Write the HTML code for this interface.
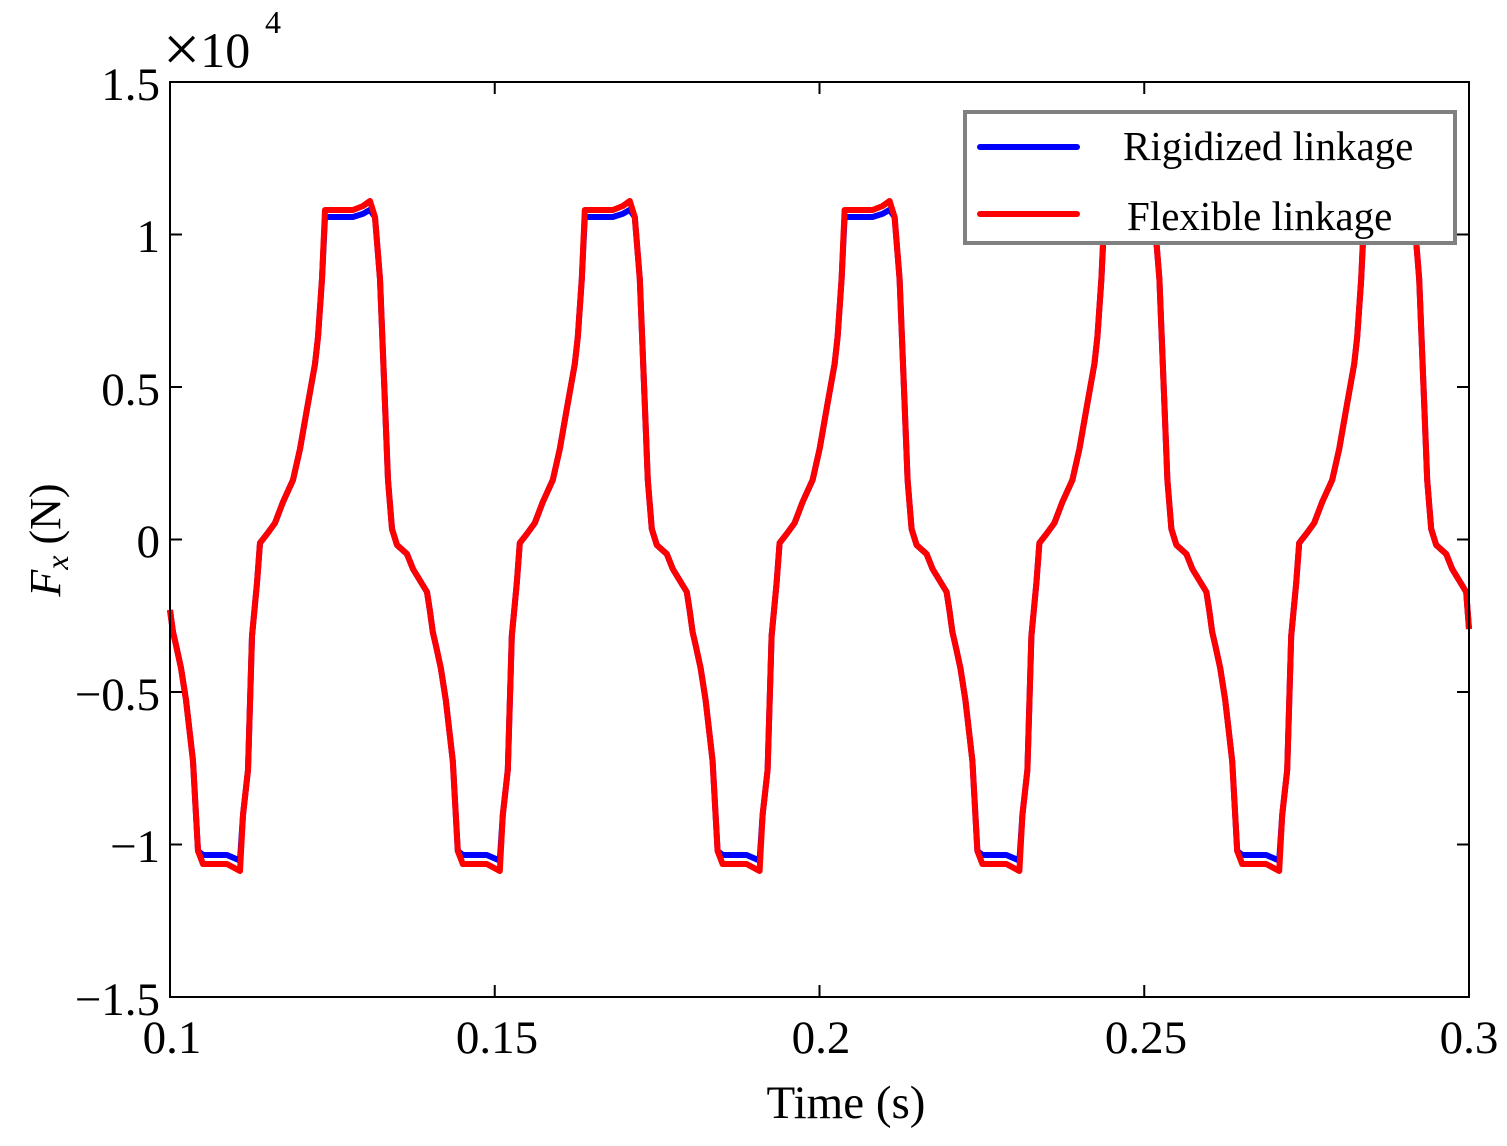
<!DOCTYPE html>
<html><head><meta charset="utf-8"><style>
html,body{margin:0;padding:0;background:#fff;}
svg{display:block;font-family:"Liberation Serif",serif;}
</style></head><body>
<svg id="s" width="1507" height="1146" viewBox="0 0 1507 1146" xmlns="http://www.w3.org/2000/svg">
<rect width="1507" height="1146" fill="#fff"/>
<g id="plot"></g>
<rect x="170" y="82" width="1299" height="915" fill="none" stroke="#000" stroke-width="2"/>
<g stroke="#000" stroke-width="2" id="ticks"></g>
<g font-size="47" fill="#000" text-anchor="end">
<text x="160" y="100">1.5</text>
<text x="160" y="252">1</text>
<text x="160" y="405">0.5</text>
<text x="160" y="557">0</text>
<text x="160" y="710">−0.5</text>
<text x="160" y="862">−1</text>
<text x="160" y="1015">−1.5</text>
</g>
<g font-size="47" fill="#000" text-anchor="middle">
<text x="172" y="1053">0.1</text>
<text x="497" y="1053">0.15</text>
<text x="821" y="1053">0.2</text>
<text x="1146" y="1053">0.25</text>
<text x="1469" y="1053">0.3</text>
<text x="846" y="1118">Time (s)</text>
</g>
<text x="163" y="67" font-size="50"><tspan font-size="66" dy="4">×</tspan><tspan dy="-4">10</tspan></text>
<text x="265" y="33" font-size="32">4</text>
<text transform="translate(60,540) rotate(-90)" font-size="44" text-anchor="middle"><tspan font-style="italic">F</tspan><tspan font-style="italic" font-size="32" dy="8">x</tspan><tspan dy="-8"> (N)</tspan></text>
<rect x="965" y="112" width="490" height="131" fill="#fff" stroke="#808080" stroke-width="4"/>
<line x1="980" y1="147" x2="1077" y2="147" stroke="#0000ff" stroke-width="6" stroke-linecap="round"/>
<line x1="980" y1="214" x2="1077" y2="214" stroke="#ff0000" stroke-width="6" stroke-linecap="round"/>
<text x="1123" y="160" font-size="41">Rigidized linkage</text>
<text x="1127" y="230" font-size="41">Flexible linkage</text>
</svg>
<script>
var pts=[[170,610],[173,632],[176,645],[181,668],[186,700],[193,761],[198,851],[203,864],[227,864],[240,871],[243,815],[248,770],[252,636],[257,583],[260,543],[267,534],[275,523],[283,502],[293,480],[300,449],[307,409],[315,364],[318,337],[322,279],[325,210],[353,210],[363,206],[370,201],[375,217],[380,279],[385,404],[388,480],[392,529],[397,545],[407,554],[413,569],[427,592]];
var P=259.8;
function build(blue){
  var d="";
  for(var k=0;k<5;k++){
    for(var i=0;i<pts.length;i++){
      var x=pts[i][0]+k*P,y=pts[i][1];
      if(blue){ if(y<=212) y=217+(y-210)*0.8; if(y>=860&&y<880) y=855+(y-864)*0.8;}
      if(x>1469) continue;
      d+=(d?"L":"M")+x.toFixed(1)+","+y.toFixed(1);
    }
  }
  d+="L1469,629";
  return d;
}
var g=document.getElementById("plot");
g.innerHTML='<path d="'+build(true)+'" fill="none" stroke="#0000ff" stroke-width="6" stroke-linejoin="round"/>'+
'<path d="'+build(false)+'" fill="none" stroke="#ff0000" stroke-width="6" stroke-linejoin="round"/>';
var t="";
[170,494.75,819.5,1144.25,1469].forEach(function(x){t+='<line x1="'+x+'" y1="997" x2="'+x+'" y2="985"/><line x1="'+x+'" y1="82" x2="'+x+'" y2="94"/>';});
[82,234.5,387,539.5,692,844.5,997].forEach(function(y){t+='<line x1="170" y1="'+y+'" x2="182" y2="'+y+'"/><line x1="1469" y1="'+y+'" x2="1457" y2="'+y+'"/>';});
document.getElementById("ticks").innerHTML=t;
</script>
</body></html>
